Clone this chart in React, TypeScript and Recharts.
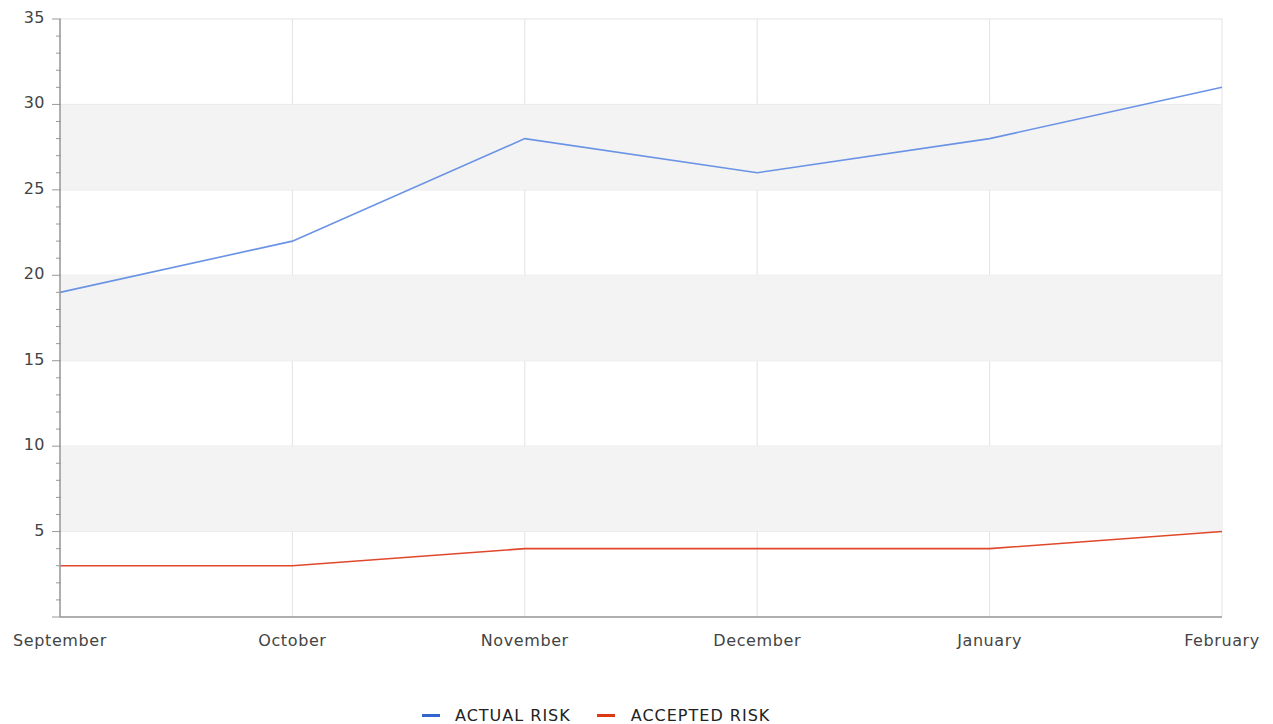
import React from "react";
import {
  LineChart,
  Line,
  XAxis,
  YAxis,
  CartesianGrid,
  ReferenceArea,
  Legend,
} from "recharts";

const months = ["September", "October", "November", "December", "January", "February"];
const actualRisk = [19, 22, 28, 26, 28, 31];
const acceptedRisk = [3, 3, 4, 4, 4, 5];
const majorTicks = [0, 5, 10, 15, 20, 25, 30, 35];
const bands = [
  [5, 10],
  [15, 20],
  [25, 30],
];

const data = months.map((m, i) => ({
  month: m,
  actual: actualRisk[i],
  accepted: acceptedRisk[i],
}));

const allTicks = Array.from({ length: 36 }, (_, i) => i);

const FONT = "'DejaVu Sans', Verdana, sans-serif";

// y tick with minor marks every 1, labels every 5
const YTick = (props: any) => {
  const { x, y, payload } = props;
  const v = payload.value;
  const major = v % 5 === 0;
  const axisX = x + 8 + 1;
  return (
    <g>
      <line
        x1={axisX - (major ? 9 : 5)}
        x2={axisX}
        y1={y}
        y2={y}
        stroke="#999"
        strokeWidth={1}
      />
      {major && v !== 0 && (
        <text
          x={axisX - 16}
          y={y}
          dy={4}
          textAnchor="end"
          fill="#444"
          style={{ fontSize: 16, fontFamily: FONT, letterSpacing: 0.5 }}
        >
          {v}
        </text>
      )}
    </g>
  );
};

const XTick = (props: any) => {
  const { x, y, payload } = props;
  return (
    <text
      x={x}
      y={y + 21}
      textAnchor="middle"
      fill="#444"
      style={{ fontSize: 16, fontFamily: FONT, letterSpacing: 0.6 }}
    >
      {payload.value}
    </text>
  );
};

const LegendContent = () => (
  <div
    style={{
      display: "flex",
      alignItems: "center",
      height: 24,
      paddingTop: 6,
      boxSizing: "border-box",
      fontFamily: FONT,
      fontSize: 16,
      letterSpacing: 1,
      color: "#222",
      paddingLeft: 422,
    }}
  >
    <span style={{ display: "inline-block", width: 18, height: 3, background: "#3366cc", marginRight: 15 }} />
    <span style={{ marginRight: 26 }}>ACTUAL RISK</span>
    <span style={{ display: "inline-block", width: 18, height: 3, background: "#dc3912", marginRight: 16 }} />
    <span>ACCEPTED RISK</span>
  </div>
);

export default function App() {
  return (
    <div style={{ position: "absolute", left: 0, top: 0, background: "#fff" }}>
      <LineChart
        width={1273}
        height={724}
        data={data}
        margin={{ top: 19, right: 51, left: 0, bottom: 0 }}
      >
        {bands.map(([a, b]) => (
          <ReferenceArea
            key={a}
            y1={a}
            y2={b}
            fill="#f3f3f3"
            fillOpacity={1}
            stroke="none"
            ifOverflow="extendDomain"
          />
        ))}
        <CartesianGrid stroke="#e3e3e3" horizontalValues={majorTicks} />
        <XAxis
          dataKey="month"
          axisLine={{ stroke: "#999", strokeWidth: 1.5 }}
          tickLine={false}
          tick={<XTick />}
          height={83}
          interval={0}
        />
        <YAxis
          type="number"
          domain={[0, 35]}
          ticks={allTicks}
          interval={0}
          width={60}
          axisLine={{ stroke: "#999", strokeWidth: 1.5 }}
          tickLine={false}
          tick={<YTick />}
        />
        <Legend verticalAlign="bottom" height={24} content={<LegendContent />} />
        <Line
          type="linear"
          dataKey="actual"
          stroke="#6a93e6"
          strokeWidth={1.6}
          dot={false}
          isAnimationActive={false}
        />
        <Line
          type="linear"
          dataKey="accepted"
          stroke="#e0482b"
          strokeWidth={1.6}
          dot={false}
          isAnimationActive={false}
        />
      </LineChart>
    </div>
  );
}
